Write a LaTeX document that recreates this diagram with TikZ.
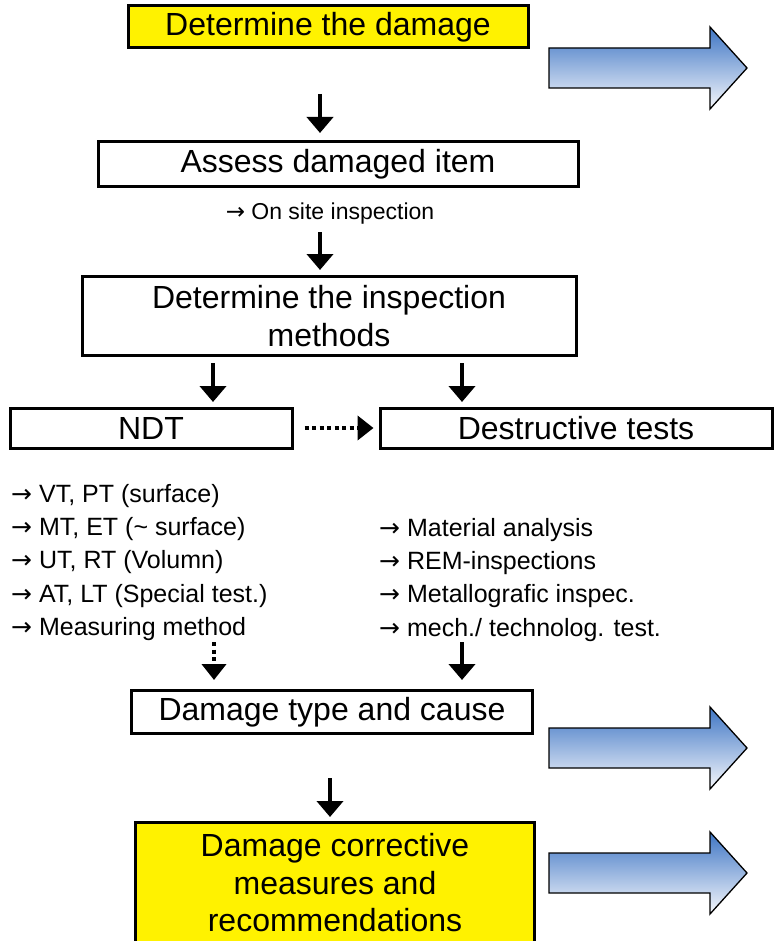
\documentclass[tikz,border=0pt]{standalone}
\usepackage{fontspec}
\setmainfont{Liberation Sans}
\newfontfamily\arrfont{DejaVu Sans}
\usetikzlibrary{arrows.meta,positioning}

\definecolor{arrtop}{RGB}{62,117,196}
\definecolor{arrbot}{RGB}{246,248,252}
\newcommand\toarr{{\arrfont →}}

\begin{document}
\begin{tikzpicture}
[x=1pt, y=-1pt,
   box/.style={draw, line width=3pt, inner sep=0pt, align=center,
      font=\fontsize{32}{37.5}\selectfont},
   hibox/.style={box, fill=yellow},
   note/.style={inner sep=0pt, anchor=base west, font=\fontsize{25}{30}\selectfont},
   down/.style={line width=4pt, -{Triangle[width=26pt,length=16pt]}},
   dots/.style={line width=4pt, dash pattern=on 4pt off 3.5pt,
      -{Triangle[width=24pt,length=16pt]}},
   bigarrow/.style={draw, line width=1.3pt, top color=arrtop, bottom color=arrbot}]
\useasboundingbox (0,0) rectangle (774,941);

% boxes
\node[hibox, minimum width=400pt, minimum height=42pt] (dmg) at (328,27) {Determine the damage};
\node[box, minimum width=480pt, minimum height=45pt] (assess) at (338,164) {Assess damaged item};
\node[inner sep=0pt, anchor=base, font=\fontsize{23}{28}\selectfont] (site) at (330,219) {\toarr{} On site inspection};
\node[box, minimum width=494pt, minimum height=79pt] (meth) at (329,316) {Determine the inspection\\methods};
\node[box, minimum width=282pt, minimum height=40pt] (ndt) at (151,428) {NDT};
\node[box, minimum width=392pt, minimum height=40pt] (dest) at (576,428) {Destructive tests};
\node[box, minimum width=401pt, minimum height=43pt] (cause) at (332,712) {Damage type and cause};
\node[hibox, minimum width=399pt, minimum height=122pt] (meas) at (335,883)
   {Damage corrective\\measures and\\recommendations};

% lists
\foreach \t [count=\i] in {{VT, PT (surface)}, {MT, ET (\textasciitilde{} surface)},
      {UT, RT (Volumn)}, {AT, LT (Special test.)}, {Measuring method}}
   \node[note] (l\i) at (11,502+33.4*\i-33.4) {\toarr{} \t};
\foreach \t [count=\i] in {{Material analysis}, {REM-inspections},
      {Metallografic inspec.}, {mech./ technolog. test.}}
   \node[note] (r\i) at (379,536+33.4*\i-33.4) {\toarr{} \t};

% arrow ends
\coordinate (a1) at (320,94);  \coordinate (b1) at (320,133);
\coordinate (a2) at (320,232); \coordinate (b2) at (320,270);
\coordinate (a3) at (213,363); \coordinate (b3) at (213,402);
\coordinate (a4) at (462,363); \coordinate (b4) at (462,402);
\coordinate (a5) at (214,642); \coordinate (b5) at (214,680);
\coordinate (a6) at (462,642); \coordinate (b6) at (462,680);
\coordinate (a7) at (330,778); \coordinate (b7) at (330,817);

\draw[down] (a1) -- (b1);
\draw[down] (a2) -- (b2);
\draw[down] (a3) -- (b3);
\draw[down] (a4) -- (b4);
\draw[dots] (a5) -- (b5);
\draw[down] (a6) -- (b6);
\draw[down] (a7) -- (b7);
\draw[dots] ([xshift=11pt]ndt.east) -- ([xshift=-5pt]dest.west);

% outcome arrows
\foreach \c in {68,748,873}
   \path[bigarrow] (549,\c-20) -- (710,\c-20) -- (710,\c-41) -- (747,\c)
      -- (710,\c+41) -- (710,\c+20) -- (549,\c+20) -- cycle;
\end{tikzpicture}
\end{document}
